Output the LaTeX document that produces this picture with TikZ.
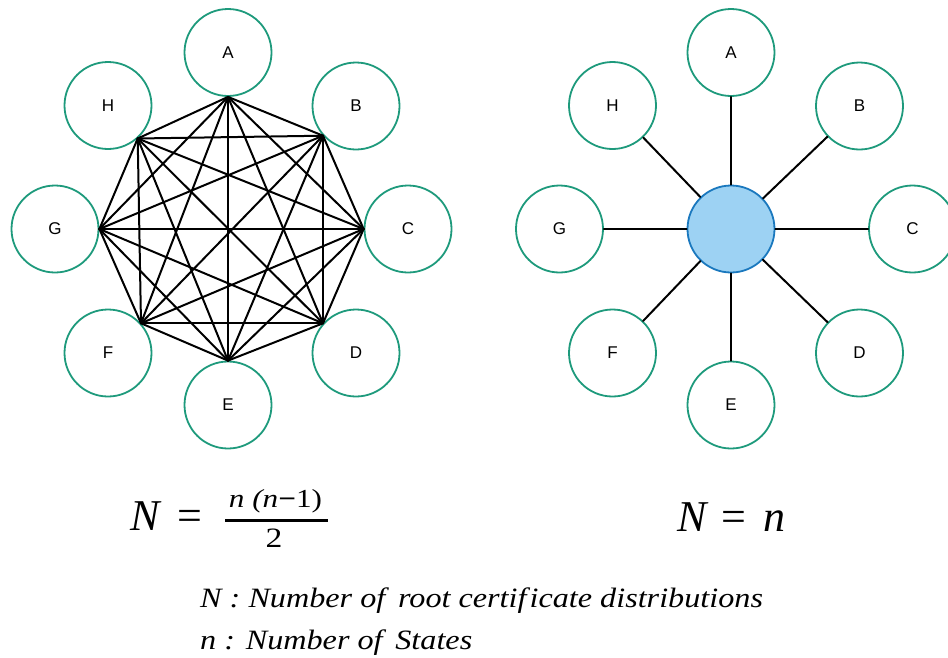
\documentclass[tikz,border=0pt]{standalone}
\usepackage{fontspec}
\setmainfont{Liberation Serif}
\newfontfamily\labfont{Liberation Sans}
\newfontfamily\widefont[FakeStretch=1.15]{Liberation Serif}
\newfontfamily\fracfont[FakeStretch=1.2]{Liberation Serif}
\definecolor{ringcol}{HTML}{1E9A7C}
\definecolor{hubfill}{HTML}{9DD2F3}
\definecolor{hubdraw}{HTML}{1A78BE}
\begin{document}
\begin{tikzpicture}[x=1pt,y=-1pt,
  state/.style={circle,draw=ringcol,line width=1.8pt,minimum size=87pt,inner sep=0pt,
    font=\labfont\fontsize{17}{20}\selectfont},
  hub/.style={circle,draw=hubdraw,fill=hubfill,line width=1.8pt,minimum size=87pt,inner sep=0pt},
  link/.style={line width=2pt,black,line cap=round,line join=round},
  bigmath/.style={inner sep=0pt,anchor=base west,font=\fontsize{44}{50}\selectfont},
  smallmath/.style={inner sep=0pt,anchor=base,font=\fracfont\fontsize{26}{30}\selectfont},
  legend/.style={inner sep=0pt,anchor=base west,font=\widefont\itshape\fontsize{28}{34}\selectfont}]
\useasboundingbox (0,0) rectangle (948,657);
% ---- left: full mesh ----
\node[state] (A) at (228,52.5) {A};
\node[state] (B) at (356,106) {B};
\node[state] (C) at (408,229) {C};
\node[state] (D) at (356,353) {D};
\node[state] (E) at (228,405) {E};
\node[state] (F) at (108,353) {F};
\node[state] (G) at (55,229) {G};
\node[state] (H) at (108,105.5) {H};
\coordinate (pa) at (A.-90);
\coordinate (pb) at (B.222);
\coordinate (pc) at (C.180);
\coordinate (pd) at (D.138);
\coordinate (pe) at (E.90);
\coordinate (pf) at (F.42);
\coordinate (pg) at (G.0);
\coordinate (ph) at (H.-48);
\foreach \u/\vs in {pa/{pb,pc,pd,pe,pf,pg,ph},pb/{pc,pd,pe,pf,pg,ph},pc/{pd,pe,pf,pg,ph},
  pd/{pe,pf,pg,ph},pe/{pf,pg,ph},pf/{pg,ph},pg/{ph}}{
  \foreach \v in \vs { \draw[link] (\u) -- (\v); }
}
% ---- right: hub ----
\node[hub] (X) at (731,229) {};
\node[state] (RA) at (731,52.5) {A};
\node[state] (RB) at (859.5,106) {B};
\node[state] (RC) at (912.5,229) {C};
\node[state] (RD) at (859.5,353) {D};
\node[state] (RE) at (731,405) {E};
\node[state] (RF) at (612.5,353) {F};
\node[state] (RG) at (559.5,229) {G};
\node[state] (RH) at (612.5,105.5) {H};
\foreach \t in {RA,RB,RC,RD,RE,RF,RG,RH}{ \draw[link] (X) -- (\t); }
% ---- formulas ----
\node[bigmath] (N1) at (130,530) {\itshape N};
\node[bigmath] (eq1) at (177,530) {=};
\node[smallmath] (num) at (275.5,507) {\itshape n (n\upshape\textbf{−}1)};
\node[smallmath, font=\fracfont\fontsize{28}{32}\selectfont] (den) at (274,547.5) {2};
\draw[line width=2.4pt] (225,520.5) -- (328,520.5);
\node[bigmath] (N2) at (677,531) {\itshape N};
\node[bigmath] (eq2) at (721,531) {=};
\node[bigmath] (n2) at (763,531) {\itshape n};
% ---- legend ----
\node[legend] (l1) at (200,607) {N : Number of\, root certif\kern3pt icate distributions};
\node[legend] (l2) at (200,649) {n : Number of\, States};
\end{tikzpicture}
\end{document}
